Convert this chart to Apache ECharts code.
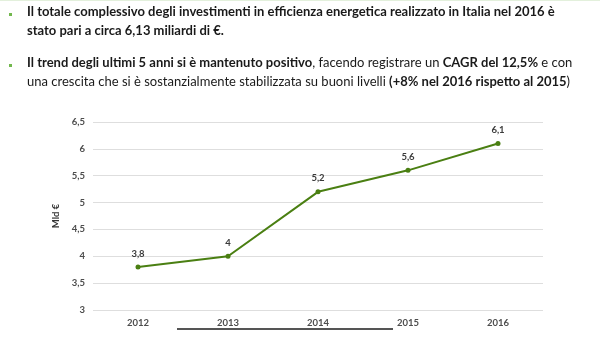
<!DOCTYPE html>
<html>
<head>
<meta charset="utf-8">
<script src="https://cdn.jsdelivr.net/npm/echarts@6/dist/echarts.min.js"></script>
<style>
  html, body { margin: 0; padding: 0; background: #ffffff; }
  #chart { width: 600px; height: 343px; }
</style>
</head>
<body>
<div id="chart"></div>
<script>
// Investimenti in efficienza energetica in Italia (Mld €)
const years = ['2012', '2013', '2014', '2015', '2016'];
const investments = [3.8, 4, 5.2, 5.6, 6.1];
const yTicks = { min: 3, max: 6.5, step: 0.5 };

const FONT = 'Lato, "Open Sans", sans-serif';
const fmt = v => String(v).replace('.', ',');

const chart = echarts.init(document.getElementById('chart'));

const txt = (x, y, text, rich) => ({
  type: 'text', left: x, top: y,
  style: { text, rich, font: '13px ' + FONT, fill: '#1a1a1a' }
});
const richStyles = {
  b: { fontFamily: FONT, fontSize: 13, fontWeight: 'bold', fill: '#1a1a1a' },
  r: { fontFamily: FONT, fontSize: 13, fontWeight: 'normal', fill: '#1a1a1a' }
};
const bullet = y => ({
  type: 'rect', shape: { x: 9, y: y, width: 3, height: 3 },
  style: { fill: '#72b84e' }
});
const smallText = { color: '#4d4d4d', fontFamily: FONT, fontSize: 9.5, fontWeight: 'bold' };

chart.setOption({
  animation: false,
  backgroundColor: '#ffffff',
  grid: { left: 93, right: 57, top: 122, bottom: 33 },
  xAxis: {
    type: 'category',
    data: years,
    boundaryGap: true,
    axisLine: { show: false },
    axisTick: { show: false },
    axisLabel: Object.assign({ margin: 8 }, smallText)
  },
  yAxis: {
    type: 'value',
    min: yTicks.min, max: yTicks.max, interval: yTicks.step,
    name: 'Mld €',
    nameLocation: 'middle',
    nameGap: 26,
    nameRotate: 90,
    nameTextStyle: Object.assign({}, smallText, { color: '#333333' }),
    axisLine: { show: false },
    axisTick: { show: false },
    axisLabel: Object.assign({ margin: 8, formatter: fmt }, smallText),
    splitLine: { lineStyle: { color: '#dedede', width: 1 } }
  },
  series: [{
    type: 'line',
    data: investments,
    symbol: 'circle',
    symbolSize: 5,
    lineStyle: { color: '#4a7f12', width: 2 },
    itemStyle: { color: '#4a7f12' },
    label: Object.assign({
      show: true, position: 'top', distance: 6,
      formatter: p => fmt(p.value)
    }, smallText, { color: '#3a3a3a' })
  }],
  graphic: [
    { type: 'line', shape: { x1: 0, y1: 0.5, x2: 600, y2: 0.5 }, style: { stroke: '#e3f0dc', lineWidth: 1 } },
    bullet(13),
    txt(27, 5, '{b|Il totale complessivo degli investimenti in efficienza energetica realizzato in Italia nel 2016 è}', richStyles),
    txt(27, 24, '{b|stato pari a circa 6,13 miliardi di €.}', richStyles),
    bullet(64),
    txt(27, 56, '{b|Il trend degli ultimi 5 anni si è mantenuto positivo}{r|, facendo registrare un }{b|CAGR del 12,5%}{r| e con}', richStyles),
    txt(27, 75, '{r|una crescita che si è sostanzialmente stabilizzata su buoni livelli }{b|(+8% nel 2016 rispetto al 2015}{r|)}', richStyles),
    { type: 'line', shape: { x1: 177, y1: 329, x2: 393, y2: 329 }, style: { stroke: '#555555', lineWidth: 2 } }
  ]
});
</script>
</body>
</html>
